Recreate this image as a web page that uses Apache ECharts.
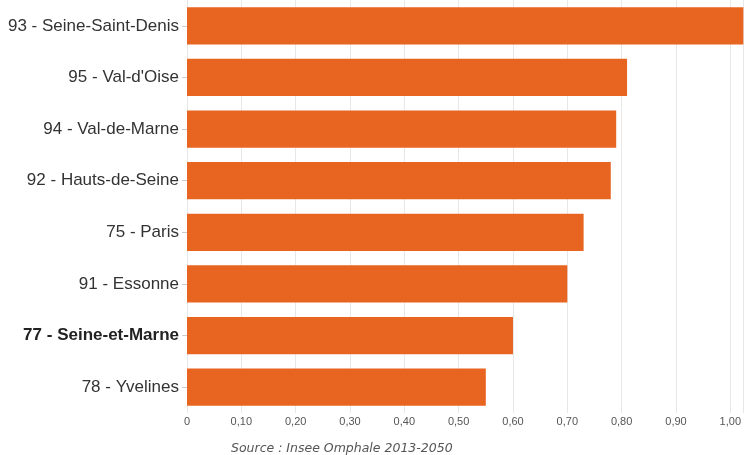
<!DOCTYPE html>
<html><head><meta charset="utf-8">
<script src="https://cdn.jsdelivr.net/npm/echarts@6/dist/echarts.min.js"></script>
<style>html,body{margin:0;padding:0;background:#fff}#c{width:744px;height:455px}</style>
</head><body><div id="c"></div>
<script>
const categories = ["93 - Seine-Saint-Denis","95 - Val-d'Oise","94 - Val-de-Marne","92 - Hauts-de-Seine","75 - Paris","91 - Essonne","77 - Seine-et-Marne","78 - Yvelines"];
const values = [1.05, 0.81, 0.79, 0.78, 0.73, 0.70, 0.60, 0.55];
const highlighted = "77 - Seine-et-Marne";
const sourceText = "Source : Insee Omphale 2013-2050";

const chart = echarts.init(document.getElementById('c'), null, {renderer:'canvas'});
chart.setOption({
  animation:false,
  grid:{left:187, right:0, top:0, bottom:42, containLabel:false},
  xAxis:{type:'value', min:0, max:1.024, interval:0.1,
    axisLine:{show:false}, axisTick:{show:false},
    splitLine:{show:true, lineStyle:{color:'#e8e8e8', width:1}},
    axisLabel:{color:'#555', fontSize:11, fontFamily:'Liberation Sans', margin:3, showMaxLabel:false,
      formatter:v=> v===0 ? '0' : v.toFixed(2).replace('.', ',')}},
  yAxis:{type:'category', data:categories, inverse:true,
    axisLine:{show:false},
    axisTick:{show:true, alignWithLabel:true, length:5, lineStyle:{color:'#ccc'}},
    axisLabel:{fontSize:17, fontFamily:'Liberation Sans', color:'#333', margin:8,
      formatter:v=> v===highlighted ? '{b|'+v+'}' : v,
      rich:{b:{fontWeight:'bold', fontSize:17, fontFamily:'Liberation Sans', color:'#222'}}}},
  series:[{type:'bar', data:values, barCategoryGap:'28%',
    itemStyle:{color:'#e86421'}}],
  graphic:[{type:'text', left:231, top:442,
    style:{text:sourceText, font:'italic 12.5px "DejaVu Sans"', fill:'#555'}}]
});
</script></body></html>
